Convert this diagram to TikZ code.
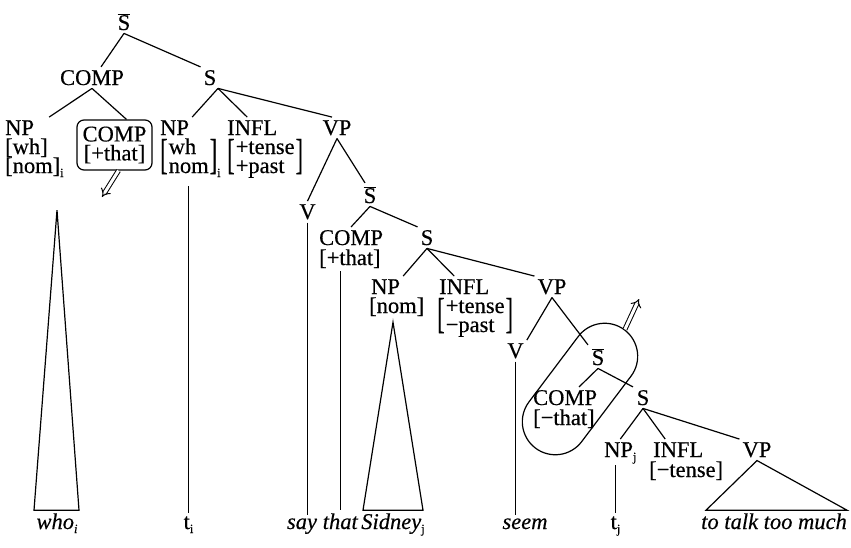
\documentclass[tikz,border=0pt]{standalone}
\usepackage{graphicx}
\usepackage{fontspec}
\setmainfont{Liberation Serif}[FakeBold=0.4]
\usetikzlibrary{arrows.meta,shapes.misc,calc}
\newcommand\idx[1]{{\fontsize{12.5}{12.5}\selectfont #1}}
\newcommand\lo[2][-4pt]{\raisebox{#1}[0pt][0pt]{\idx{#2}}}
\newcommand\rowsl[1]{\halign{##\hfil\cr#1\crcr}}
\newcommand\rowsc[1]{\halign{\hfil##\hfil\cr#1\crcr}}
\newcommand\tstk[1]{\vtop{\baselineskip=19pt\lineskiplimit=-100pt\lineskip=0pt\rowsl{#1}}}
\newcommand\tstkc[1]{\vtop{\baselineskip=19pt\lineskiplimit=-100pt\lineskip=0pt\rowsc{#1}}}
\newcommand\bstk[1]{\vbox{\baselineskip=19pt\lineskiplimit=-100pt\lineskip=0pt\rowsl{#1}}}
\newcommand\tb[1]{\raisebox{4.5pt}{\scalebox{1}[1.9]{#1}}}
\newcommand\fb[1]{\tb{[}\kern1pt\bstk{#1}\kern1pt\tb{]}}
\newcommand\Sbar{$\overline{\mbox{S}}$}
\begin{document}
\begin{tikzpicture}[x=1pt,y=-1pt,
  every node/.style={font=\fontsize{22.5}{19}\selectfont, inner sep=3pt},
  cat/.style={anchor=base},
  catw/.style={anchor=base west},
  feat/.style={anchor=base west, inner sep=0pt},
  ln/.style={line width=1.2pt},
  imp/.style={double, double distance=3pt, line width=1pt, -{Implies[scale=2.2]}}]
\useasboundingbox (0,0) rectangle (851,547);
% level nodes
\node[cat] (sbar1) at (124,30) {\Sbar};
\node[cat] (comp1) at (92,85) {COMP};
\node[cat] (s1) at (210,85) {S};
\node[catw] (np1) at (2,135) {NP};
\node[catw] (np1f) at (2,154) {\tstk{[wh]\cr [nom]\lo{i}}};
\node[draw, rounded corners=7pt, line width=1.2pt, inner sep=0pt, minimum width=75pt, minimum height=50pt] (cbox) at (114.5,145) {\tstkc{COMP\cr [+that]}};
\node[catw] (np2) at (157,135) {NP};
\node[feat] (np2f) at (160,173) {\fb{wh\cr nom}\lo{i}};
\node[catw] (infl1) at (224,135) {INFL};
\node[feat] (infl1f) at (227,173) {\fb{+tense\cr +past}};
\node[cat] (vp1) at (337,135) {VP};
\node[cat] (v2) at (307.5,219) {V};
\node[cat] (sbar2) at (370,203) {\Sbar};
\node[catw] (comp2) at (316,245) {COMP};
\node[catw] (comp2f) at (316,265) {[+that]};
\node[cat] (s2) at (427,245) {S};
\node[catw] (np3) at (368,294) {NP};
\node[catw] (np3f) at (366,313) {[nom]};
\node[catw] (infl2) at (436,294) {INFL};
\node[feat] (infl2f) at (437,332) {\fb{+tense\cr −past}};
\node[cat] (vp2) at (552,294) {VP};
\node[cat] (v3) at (515.5,358) {V};
\node[cat] (sbar3) at (598,365) {\Sbar};
\node[catw] (comp3) at (530,405) {COMP};
\node[catw] (comp3f) at (530,425) {[−that]};
\node[cat] (s3) at (643,405) {S};
\node[catw] (npj) at (601,457) {NP\lo{j}};
\node[catw] (infl3) at (650,457) {INFL};
\node[catw] (infl3f) at (646,477) {[−tense]};
\node[cat] (vp3) at (757,457) {VP};
% leaves
\node[cat] (who) at (57,529) {\textit{who}\lo{\textit{i}}};
\node[cat] (ti) at (188.5,529) {t\lo{i}};
\node[cat] (say) at (302,529) {\textit{say}};
\node[cat] (that) at (340.5,529) {\textit{that}};
\node[cat] (sidney) at (393,529) {\textit{Sidney}\lo{j}};
\node[cat] (seem) at (525,529) {\textit{seem}};
\node[cat] (tj) at (615.5,529) {t\lo{j}};
\node[cat] (ttm) at (774,529) {\textit{to talk too much}};
% oval
\node[draw, rounded rectangle, rotate=53, minimum width=154pt, minimum height=66pt, line width=1.2pt] (oval) at (580,389) {};
\coordinate (arr1) at (102,197);
\coordinate (arr2) at (639,299);
% tree lines
\draw[ln] (sbar1.south) -- ([xshift=9]comp1.north);
\draw[ln] (sbar1.south) -- (s1.north west);
\draw[ln] (comp1.south) -- ([xshift=12]np1.north east);
\draw[ln] (comp1.south) -- ([xshift=12]cbox.north);
\draw[ln] ([xshift=8]s1.south) -- (np2.north east);
\draw[ln] ([xshift=8]s1.south) -- ([xshift=-5]infl1.north);
\draw[ln] ([xshift=8]s1.south) -- ([xshift=-5]vp1.north);
\draw[ln] (vp1.south) -- (v2.north);
\draw[ln] (vp1.south) -- ([xshift=-5]sbar2.north);
\draw[ln] (sbar2.south) -- (comp2.north);
\draw[ln] (sbar2.south) -- (s2.north west);
\draw[ln] (s2.south) -- (np3.north east);
\draw[ln] (s2.south) -- ([xshift=-10]infl2.north);
\draw[ln] (s2.south) -- (vp2.north west);
\draw[ln] (vp2.south) -- (v3.north east);
\draw[ln] (vp2.south) -- ([xshift=-10]sbar3.north);
\draw[ln] (sbar3.south) -- ([xshift=14]comp3.north);
\draw[ln] (sbar3.south) -- ([xshift=-10]s3.north);
\draw[ln] (s3.south) -- (npj.north);
\draw[ln] (s3.south) -- ([xshift=-13]infl3.north);
\draw[ln] (s3.south) -- (vp3.north west);
% leaf connections
\draw[ln] ($(who.north |- np1f.south)+(0,31)$) -- ([xshift=-23]who.north) -- ([xshift=22]who.north) -- cycle;
\draw[ln] ($(ti.north |- np2f.south)+(0,12)$) -- (ti.north);
\draw[ln] (v2.south) -- (v2.south |- say.north);
\draw[ln] (that.north |- comp2f.south) -- (that.north);
\draw[ln] ($(sidney.north |- np3f.south)+(0,3)$) -- ([xshift=-30]sidney.north) -- ([xshift=30]sidney.north) -- cycle;
\draw[ln] (v3.south) -- (v3.south |- seem.north);
\draw[ln] ($(tj.north |- npj.south)+(0,5)$) -- (tj.north);
\draw[ln] (vp3.south) -- ([xshift=8]ttm.north west) -- ([xshift=-3]ttm.north east) -- cycle;
% arrows
\draw[imp] ([xshift=4]cbox.south) -- (arr1);
\draw[imp] (oval.east) -- (arr2);
\end{tikzpicture}
\end{document}
